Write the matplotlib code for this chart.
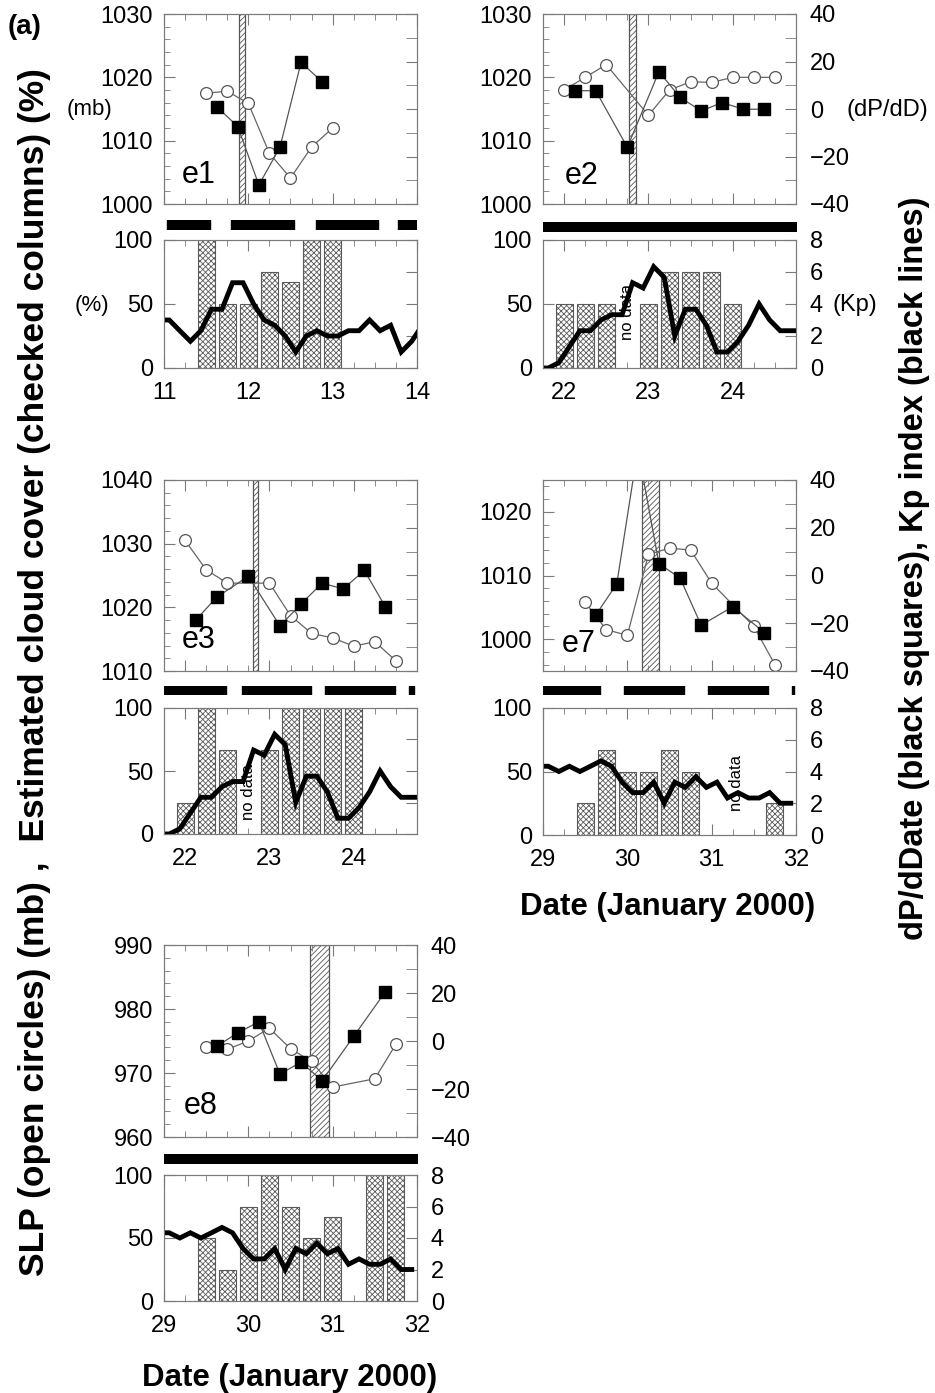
import matplotlib
matplotlib.use("Agg")
import matplotlib.pyplot as plt
import numpy as np
from matplotlib.ticker import MultipleLocator

plt.rcParams["font.family"] = ["Liberation Sans", "DejaVu Sans"]
plt.rcParams["hatch.linewidth"] = 0.6

W, H = 935, 1393

# ---------------- data ----------------
# event e1 (11-14 Jan)
e1_slp_t = [11.5, 11.75, 12.0, 12.25, 12.5, 12.75, 13.0]
e1_slp = [1017.5, 1017.8, 1015.9, 1008.0, 1004.1, 1009.0, 1012.0]
e1_dp_t = [11.625, 11.875, 12.125, 12.375, 12.625, 12.875]
e1_dp = [1.0, -7.4, -32.0, -16.1, 19.6, 11.5]
e1_band = (11.89, 11.96)
e1_strips = [(11.03, 11.54), (11.80, 12.54), (12.80, 13.54), (13.78, 14.0)]
e1_cloud_t = [11.5, 11.75, 12.0, 12.25, 12.5, 12.75, 13.0]
e1_cloud = [100, 50, 50, 75, 67, 100, 100]
e1_kp = [3.0, 3.0, 2.33, 1.67, 2.33, 3.67, 3.67, 5.33, 5.33, 4.0, 3.0, 2.67, 2.0,
         1.0, 2.0, 2.33, 2.0, 2.0, 2.33, 2.33, 3.0, 2.33, 2.67, 1.0, 1.67, 2.67]

# events e2 / e3 (22-24 Jan) share Kp
kp_22jan = [0.0, 0.0, 0.33, 1.33, 2.33, 2.33, 3.0, 3.33, 3.33, 5.33, 5.0, 6.33, 5.67,
            2.0, 3.67, 3.67, 2.67, 1.0, 1.0, 1.67, 2.67, 4.0, 3.0, 2.33, 2.33, 2.33]

e2_slp_t = [22.0, 22.25, 22.5, 23.0, 23.25, 23.5, 23.75, 24.0, 24.25, 24.5]
e2_slp = [1018.0, 1020.0, 1022.0, 1014.0, 1018.0, 1019.3, 1019.2, 1020.0, 1020.0, 1020.0]
e2_dp_t = [22.125, 22.375, 22.75, 23.125, 23.375, 23.625, 23.875, 24.125, 24.375]
e2_dp = [7.7, 7.7, -16.1, 15.7, 4.9, -0.8, 2.7, -0.1, -0.1]
e2_band = (22.765, 22.85)
e2_strips = [(21.75, 24.75)]
e2_cloud_t = [22.0, 22.25, 22.5, 23.0, 23.25, 23.5, 23.75, 24.0]
e2_cloud = [50, 50, 50, 50, 75, 75, 75, 50]

e3_slp_t = [22.0, 22.25, 22.5, 23.0, 23.25, 23.5, 23.75, 24.0, 24.25, 24.5]
e3_slp = [1030.5, 1025.9, 1023.8, 1023.8, 1018.7, 1015.9, 1015.2, 1013.9, 1014.6, 1011.6]
e3_dp_t = [22.125, 22.375, 22.75, 23.125, 23.375, 23.625, 23.875, 24.125, 24.375]
e3_dp = [-18.7, -9.1, -0.3, -21.1, -11.9, -3.2, -5.6, 2.1, -13.1]
e3_band = (22.81, 22.87)
e3_strips = [(21.75, 22.49), (22.67, 23.49), (23.66, 24.49), (24.66, 24.72)]
e3_cloud_t = [22.0, 22.25, 22.5, 23.0, 23.25, 23.5, 23.75, 24.0]
e3_cloud = [25, 100, 67, 67, 100, 100, 100, 100]

# events e7 / e8 (29-31 Jan) share Kp
kp_29jan = [4.33, 4.33, 4.0, 4.33, 4.0, 4.33, 4.67, 4.33, 3.33, 2.67, 2.67, 3.33, 2.0,
            3.33, 3.0, 3.67, 3.0, 3.33, 2.33, 2.67, 2.33, 2.33, 2.67, 2.0, 2.0]

e7_slp_t = [29.5, 29.75, 30.0, 30.25, 30.5, 30.75, 31.0, 31.5, 31.75]
e7_slp = [1005.8, 1001.5, 1000.6, 1013.3, 1014.3, 1014.0, 1008.8, 1002.0, 996.0]
e7_dp_t = [29.625, 29.875, 30.125, 30.375, 30.625, 30.875, 31.25, 31.625]
e7_dp = [-16.6, -3.5, 53.0, 4.9, -1.0, -20.8, -13.1, -23.9]
e7_band = (30.17, 30.38)
e7_strips = [(29.0, 29.67), (29.96, 30.67), (30.96, 31.67), (31.95, 31.98)]
e7_cloud_t = [29.5, 29.75, 30.0, 30.25, 30.5, 30.75, 31.75]
e7_cloud = [25, 67, 50, 50, 67, 50, 25]

e8_slp_t = [29.5, 29.75, 30.0, 30.25, 30.5, 30.75, 31.0, 31.5, 31.75]
e8_slp = [974.0, 973.7, 975.0, 977.0, 973.8, 971.8, 967.8, 969.1, 974.5]
e8_dp_t = [29.625, 29.875, 30.125, 30.375, 30.625, 30.875, 31.25, 31.625]
e8_dp = [-2.2, 3.4, 8.0, -13.8, -8.8, -16.6, 2.0, 20.5]
e8_band = (30.73, 30.96)
e8_strips = [(29.0, 32.0)]
e8_cloud_t = [29.5, 29.75, 30.0, 30.25, 30.5, 30.75, 31.0, 31.5, 31.75]
e8_cloud = [50, 25, 75, 100, 75, 50, 67, 100, 100]

GRAY = "#7a7a7a"
TICK_FS = 17


def add_ax(fig, xs, ys):
    x0, x1 = xs
    y0, y1 = ys
    return fig.add_axes([x0 / W, 1 - y1 / H, (x1 - x0) / W, (y1 - y0) / H])


def style(ax):
    for s in ax.spines.values():
        s.set_color(GRAY)
    ax.tick_params(which="both", direction="in", color=GRAY, labelsize=TICK_FS,
                   top=True, pad=8)
    ax.tick_params(which="major", length=8)
    ax.tick_params(which="minor", length=4)


def top_panel(fig, xs, ys, xlim, ylim, slp_t, slp, dp_t, dp, band, name, npos, rlabels):
    ax = add_ax(fig, xs, ys)
    ax.axvspan(band[0], band[1], facecolor="white", edgecolor="#555555",
               hatch="//////", lw=0.9, zorder=1)
    ax.plot(slp_t, slp, color="#666666", lw=0.9, marker="o", ms=8.5,
            mfc="white", mec="#555555", mew=0.9, zorder=3)
    ax.set_xlim(xlim)
    ax.set_ylim(ylim)
    ax.xaxis.set_major_locator(MultipleLocator(1))
    ax.xaxis.set_minor_locator(MultipleLocator(0.25))
    ax.yaxis.set_major_locator(MultipleLocator(10))
    ax.yaxis.set_minor_locator(MultipleLocator(2))
    style(ax)
    ax.tick_params(labelbottom=False)
    ax.text(npos[0], npos[1], name, transform=ax.transAxes, fontsize=22,
            ha="left", va="baseline", zorder=5)
    ax2 = ax.twinx()
    ax2.plot(dp_t, dp, color="#555555", lw=0.9, marker="s", ms=8,
             mfc="black", mec="black")
    ax2.set_ylim(-40, 40)
    ax2.yaxis.set_major_locator(MultipleLocator(20))
    ax2.yaxis.set_minor_locator(MultipleLocator(10))
    style(ax2)
    ax2.tick_params(which="minor", length=8)
    ax2.tick_params(labelright=rlabels, pad=10)
    return ax


def strip(fig, xs, ys, xlim, spans):
    ax = add_ax(fig, xs, ys)
    ax.broken_barh([(a, b - a) for a, b in spans], (0, 1), color="black")
    ax.set_xlim(xlim)
    ax.set_ylim(0, 1)
    ax.axis("off")


def bottom_panel(fig, xs, ys, xlim, cloud_t, cloud, kp, rlabels, nodata=None):
    ax = add_ax(fig, xs, ys)
    ax.bar(cloud_t, cloud, width=0.2, facecolor="white", edgecolor="#5a5a5a",
           hatch="xxxxxx", lw=0.8, zorder=2)
    ax.set_xlim(xlim)
    ax.set_ylim(0, 100)
    ax.xaxis.set_major_locator(MultipleLocator(1))
    ax.xaxis.set_minor_locator(MultipleLocator(0.25))
    ax.yaxis.set_major_locator(MultipleLocator(50))
    style(ax)
    ax.tick_params(axis="x", pad=10)
    if nodata is not None:
        ax.text(nodata[0], nodata[1], "no data", rotation=90, fontsize=12,
                ha="center", va="center", zorder=4)
    ax2 = ax.twinx()
    kp_t = xlim[0] - 0.0625 + 0.125 * np.arange(len(kp))
    ax2.plot(kp_t, kp, color="black", lw=3.5, solid_joinstyle="miter")
    ax2.set_ylim(0, 8)
    ax2.yaxis.set_major_locator(MultipleLocator(2))
    style(ax2)
    ax2.tick_params(labelright=rlabels, pad=10)
    return ax


fig = plt.figure(figsize=(W / 100, H / 100), dpi=100)

LEFT = (164, 417)
RIGHT = (543, 796)

# row 1
top_panel(fig, LEFT, (14, 204), (11, 14), (1000, 1030), e1_slp_t, e1_slp,
          e1_dp_t, e1_dp, e1_band, "e1", (0.07, 0.11), False)
strip(fig, LEFT, (220, 230), (11, 14), e1_strips)
bottom_panel(fig, LEFT, (240, 368), (11, 14), e1_cloud_t, e1_cloud, e1_kp, False)

top_panel(fig, RIGHT, (14, 204), (21.75, 24.75), (1000, 1030), e2_slp_t, e2_slp,
          e2_dp_t, e2_dp, e2_band, "e2", (0.085, 0.105), True)
strip(fig, RIGHT, (222, 231), (21.75, 24.75), e2_strips)
bottom_panel(fig, RIGHT, (240, 368), (21.75, 24.75), e2_cloud_t, e2_cloud,
             kp_22jan, True, nodata=(22.75, 44))

# row 2
top_panel(fig, LEFT, (480, 671), (21.75, 24.75), (1010, 1040), e3_slp_t, e3_slp,
          e3_dp_t, e3_dp, e3_band, "e3", (0.07, 0.12), False)
strip(fig, LEFT, (686, 695), (21.75, 24.75), e3_strips)
bottom_panel(fig, LEFT, (708, 834), (21.75, 24.75), e3_cloud_t, e3_cloud,
             kp_22jan, False, nodata=(22.75, 33))

top_panel(fig, RIGHT, (480, 671), (29, 32), (995, 1025), e7_slp_t, e7_slp,
          e7_dp_t, e7_dp, e7_band, "e7", (0.075, 0.10), True)
strip(fig, RIGHT, (686, 695), (29, 32), e7_strips)
bottom_panel(fig, RIGHT, (708, 835), (29, 32), e7_cloud_t, e7_cloud,
             kp_29jan, True, nodata=(31.3, 41))

# row 3
top_panel(fig, LEFT, (945, 1137), (29, 32), (960, 990), e8_slp_t, e8_slp,
          e8_dp_t, e8_dp, e8_band, "e8", (0.08, 0.12), True)
strip(fig, LEFT, (1154, 1163), (29, 32), e8_strips)
bottom_panel(fig, LEFT, (1175, 1301), (29, 32), e8_cloud_t, e8_cloud,
             kp_29jan, True)

# texts
def ftext(x, y, s, **kw):
    fig.text(x / W, 1 - y / H, s, **kw)

ftext(8, 27, "(a)", fontsize=20, fontweight="bold", ha="left", va="center")
ftext(89, 109, "(mb)", fontsize=16, ha="center", va="center")
ftext(92, 305, "(%)", fontsize=16, ha="center", va="center")
ftext(847, 110, "(dP/dD)", fontsize=17, ha="left", va="center")
ftext(832, 305, "(Kp)", fontsize=17, ha="left", va="center")
ftext(35, 672, "SLP (open circles) (mb) ,  Estimated cloud cover (checked columns) (%)",
      fontsize=25.5, fontweight="bold", rotation=90, ha="center", va="center")
ftext(915, 568, "dP/dDate (black squares), Kp index (black lines)",
      fontsize=23.5, fontweight="bold", rotation=90, ha="center", va="center")
ftext(668, 907, "Date (January 2000)", fontsize=22.5, fontweight="bold",
      ha="center", va="center")
ftext(290, 1378, "Date (January 2000)", fontsize=22.5, fontweight="bold",
      ha="center", va="center")

fig.savefig("out.png", dpi=100)
